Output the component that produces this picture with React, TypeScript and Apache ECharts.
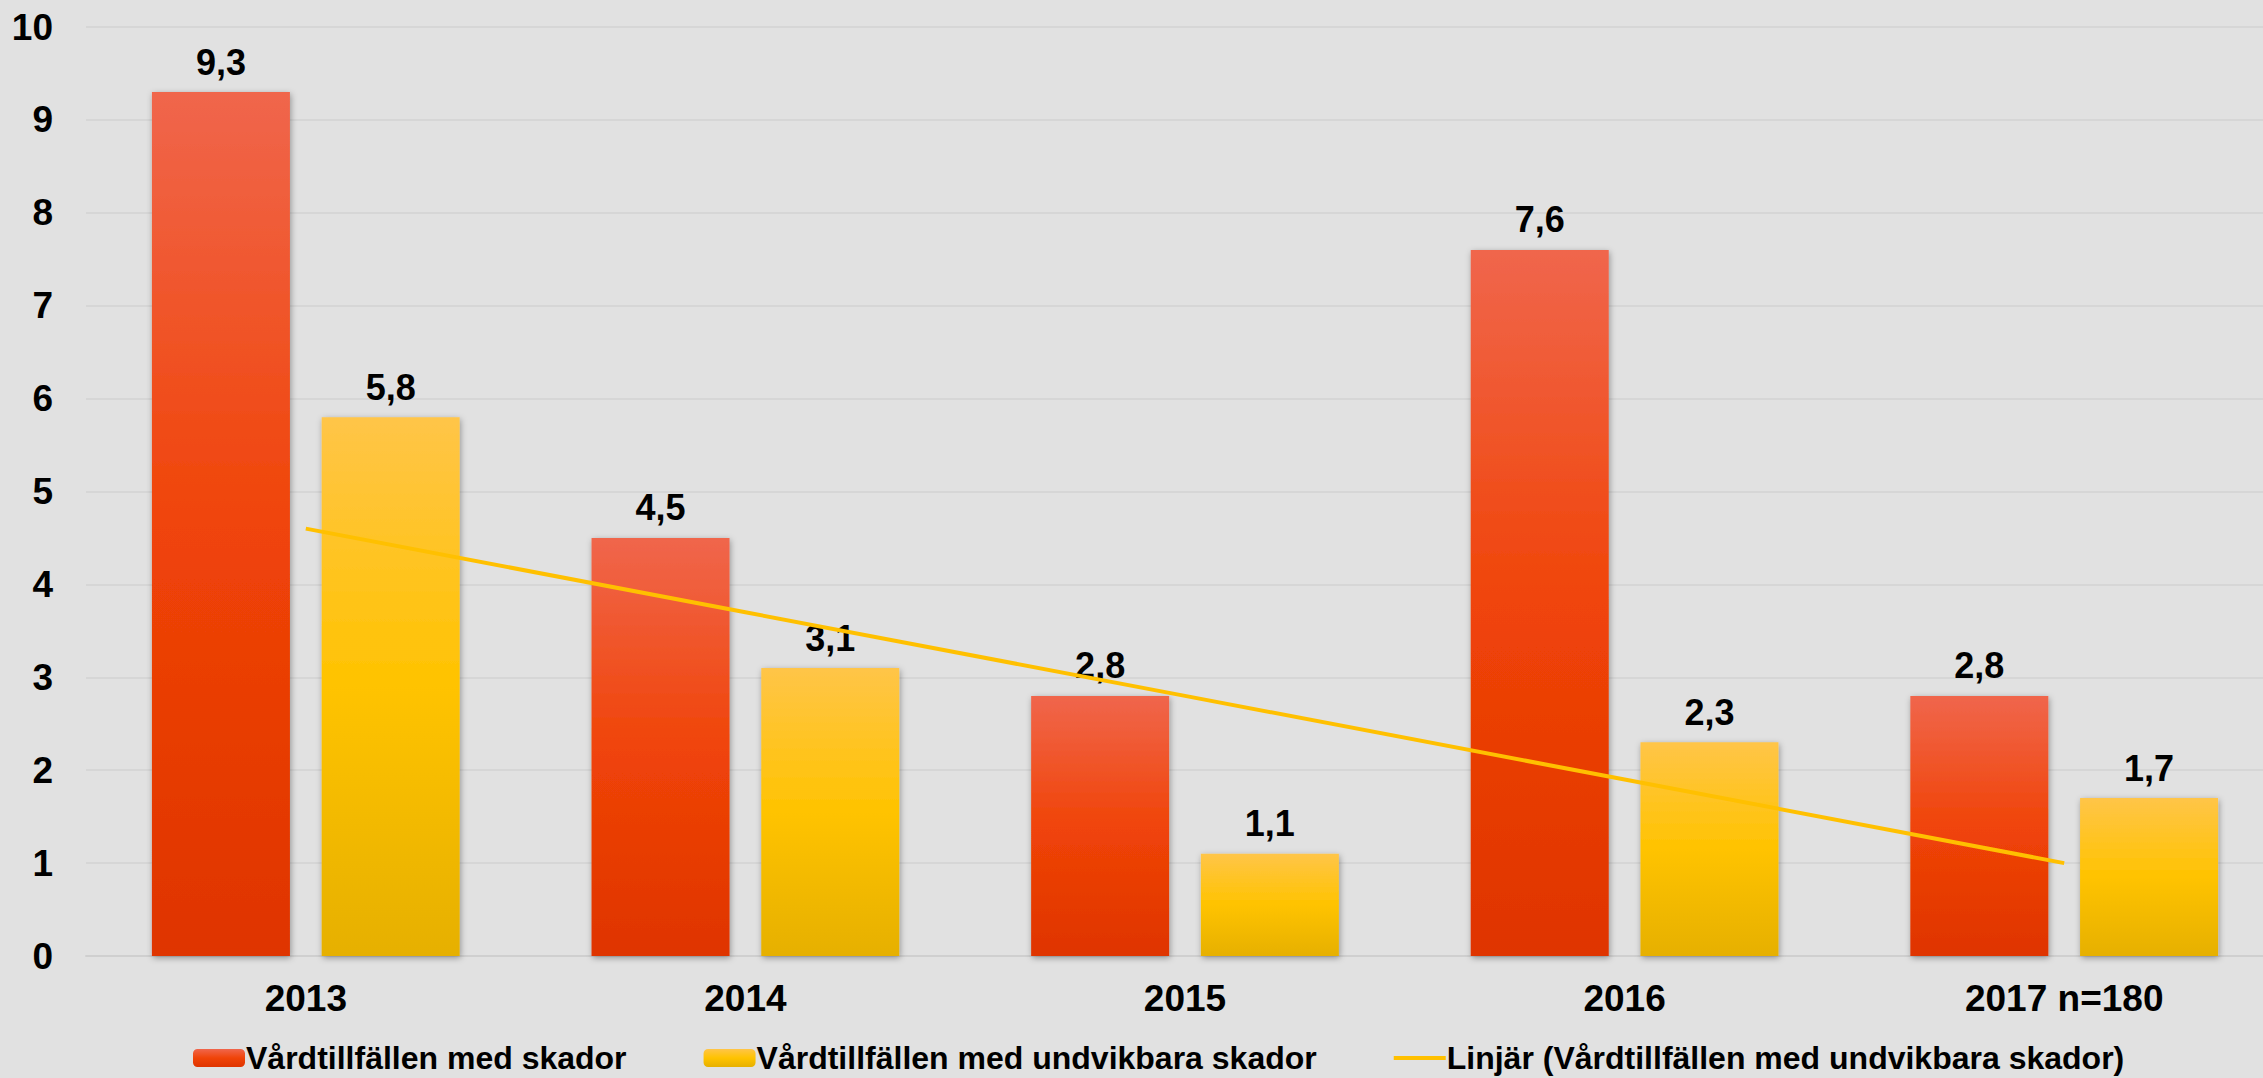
import React, { useEffect, useRef } from "react";
import * as echarts from "echarts";

const categories = ["2013", "2014", "2015", "2016", "2017 n=180"];
const skador = [9.3, 4.5, 2.8, 7.6, 2.8];
const undvikbara = [5.8, 3.1, 1.1, 2.3, 1.7];
const trend = [4.6, 3.7, 2.8, 1.9, 1.0];
const yTicks = { min: 0, max: 10, interval: 1 };

const names = [
  "Vårdtillfällen med skador",
  "Vårdtillfällen med undvikbara skador",
  "Linjär (Vårdtillfällen med undvikbara skador)",
];

const FONT = '"Liberation Sans", Arial, sans-serif';

export default function App() {
  const ref = useRef<HTMLDivElement>(null);
  useEffect(() => {
    if (!ref.current) return;
    const chart = echarts.init(ref.current, null, { renderer: "svg" });
    const redGrad = new echarts.graphic.LinearGradient(0, 0, 0, 1, [
      { offset: 0, color: "#F0664C" },
      { offset: 0.5, color: "#F04408" },
      { offset: 1, color: "#DF3400" },
    ]);
    const yelGrad = new echarts.graphic.LinearGradient(0, 0, 0, 1, [
      { offset: 0, color: "#FFC548" },
      { offset: 0.5, color: "#FFC300" },
      { offset: 1, color: "#E6B000" },
    ]);
    const label = {
      show: true,
      position: "top",
      distance: 12,
      color: "#000",
      fontFamily: FONT,
      fontWeight: "bold",
      fontSize: 36,
      formatter: (p: any) => String(p.value).replace(".", ","),
    };
    const shadow = {
      shadowBlur: 6,
      shadowColor: "rgba(0,0,0,0.35)",
      shadowOffsetX: 1,
      shadowOffsetY: 2,
    };
    chart.setOption({
      animation: false,
      backgroundColor: "#E1E1E1",
      grid: { left: 86, right: 0, top: 27, bottom: 122, containLabel: false },
      graphic: [
        {
          type: "polygon",
          z: -10,
          shape: { points: [[2222, 0], [2263, 0], [2263, 47], [2290, 47], [2290, 0]] },
          style: { fill: "#FFFFFF" },
        },
      ],
      legend: {
        left: 188,
        top: 1037,
        itemWidth: 52,
        itemHeight: 18,
        itemGap: 77,
        data: [
          names[0],
          names[1],
          { name: names[2], icon: "path://M0,0 L52,0 L52,4 L0,4 Z" },
        ],
        textStyle: {
          fontFamily: FONT,
          fontWeight: "bold",
          fontSize: 32,
          lineHeight: 32,
          color: "#000",
          padding: [0, 0, 0, -4],
        },
      },
      xAxis: {
        type: "category",
        data: categories,
        axisTick: { show: false },
        axisLine: { lineStyle: { color: "#CFCFCF", width: 2 } },
        axisLabel: {
          margin: 24,
          color: "#000",
          fontFamily: FONT,
          fontWeight: "bold",
          fontSize: 37,
        },
      },
      yAxis: {
        type: "value",
        min: yTicks.min,
        max: yTicks.max,
        interval: yTicks.interval,
        axisLine: { show: false },
        axisTick: { show: false },
        splitLine: { lineStyle: { color: "#D6D6D6", width: 2 } },
        axisLabel: {
          margin: 33,
          color: "#000",
          fontFamily: FONT,
          fontWeight: "bold",
          fontSize: 37,
        },
      },
      series: [
        {
          name: names[0],
          type: "bar",
          data: skador,
          barGap: "23%",
          barCategoryGap: "30%",
          itemStyle: { color: redGrad, ...shadow },
          label,
        },
        {
          name: names[1],
          type: "bar",
          data: undvikbara,
          itemStyle: { color: yelGrad, ...shadow },
          label,
        },
        {
          name: names[2],
          type: "line",
          data: trend,
          symbol: "none",
          z: 5,
          lineStyle: { color: "#FFC000", width: 4 },
          itemStyle: { color: "#FFC000" },
        },
      ],
    });
    return () => chart.dispose();
  }, []);
  return (
    <div
      ref={ref}
      style={{ position: "fixed", left: 0, top: 0, width: 2284, height: 1078 }}
    />
  );
}
